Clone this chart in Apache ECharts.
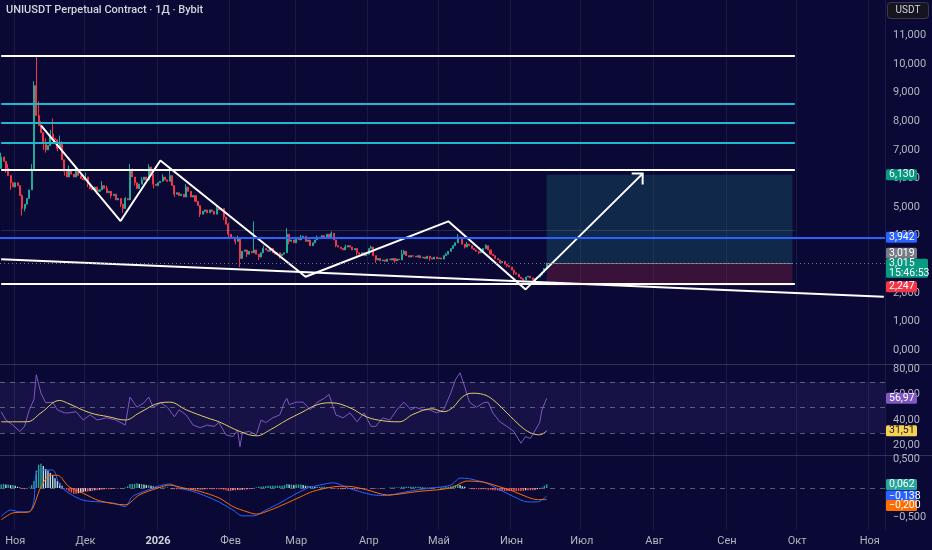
<!DOCTYPE html>
<html><head><meta charset="utf-8">
<script src="https://cdn.jsdelivr.net/npm/echarts@6/dist/echarts.min.js"></script>
<style>html,body{margin:0;padding:0;background:#0a0935;}#c{width:932px;height:550px;}</style>
</head><body><div id="c"></div>
<script>
// ---------- DATA ----------
const startDay = '2025-10-26';
const totalDays = 378;
const monthLabels = ['2026','Фев','Мар','Апр','Май','Июн','Июл','Авг','Сен','Окт','Ноя','Дек'];
const title = 'UNIUSDT Perpetual Contract · 1Д · Bybit';
const countdown = '15:46:53';

const openFirst = 6.35;
const closes = [
 6.75,6.60,6.35,6.10,5.85,5.70,5.85,5.75,5.40,4.95,
 5.10,5.30,5.60,6.30,9.25,8.20,7.85,7.60,7.25,7.00,
 7.15,7.55,7.40,7.35,7.05,7.25,6.65,6.25,6.05,6.30,
 6.15,6.05,6.25,6.10,6.00,5.95,6.05,5.80,5.65,5.60,
 5.70,5.55,5.60,5.75,5.65,5.50,5.55,5.40,5.45,5.25,
 5.30,5.10,4.95,5.30,5.25,6.30,6.05,5.85,5.65,5.80,
 5.95,6.05,5.95,6.40,6.15,5.80,5.75,5.85,5.90,6.05,
 5.95,5.90,6.10,5.75,5.45,5.50,5.40,5.45,5.35,5.70,
 5.55,5.35,5.40,5.20,5.05,4.75,4.85,4.90,4.80,4.90,
 4.85,4.75,4.95,4.90,4.95,4.65,4.40,4.05,3.90,3.95,
 3.80,3.90,3.20,3.45,3.50,3.35,3.45,3.40,3.50,3.35,
 3.25,3.40,3.55,3.50,3.45,3.55,3.40,3.35,3.40,3.30,
 3.35,3.40,4.05,3.80,3.85,3.75,3.90,3.85,3.95,3.98,
 3.80,3.85,3.65,3.75,3.85,3.95,3.90,4.00,3.95,4.05,
 3.95,4.08,3.85,3.65,3.60,3.55,3.50,3.60,3.65,3.60,
 3.50,3.55,3.40,3.35,3.40,3.30,3.35,3.55,3.60,3.30,
 3.15,3.20,3.12,3.15,3.10,3.18,3.15,3.20,3.12,3.18,
 3.15,3.35,3.45,3.30,3.25,3.30,3.28,3.25,3.30,3.22,
 3.25,3.20,3.28,3.22,3.18,3.25,3.20,3.22,3.18,3.30,
 3.35,3.45,3.55,3.65,3.75,3.95,3.90,3.70,3.60,3.70,
 3.65,3.55,3.50,3.45,3.40,3.45,3.55,3.65,3.50,3.35,
 3.30,3.20,3.15,3.05,3.10,3.00,2.95,2.90,2.80,2.70,
 2.65,2.55,2.50,2.45,2.55,2.58,2.52,2.42,2.50,2.55,
 2.62,2.72,2.85,3.015
];
const wickHigh = {0:6.9,3:6.5,9:5.45,13:6.5,14:9.4,15:10.25,16:8.7,17:8.0,19:7.4,21:7.7,22:8.1,25:7.5,26:7.3,29:6.45,32:6.4,36:6.2,43:5.9,45:5.75,53:5.35,55:6.5,56:6.35,60:6.05,63:6.5,69:6.15,72:6.35,79:5.8,92:5.05,97:4.45,101:4.0,108:4.5,112:3.65,122:4.26,128:4.02,135:4.0,141:4.15,147:3.68,158:3.65,171:3.5,172:3.5,190:3.4,195:4.05,199:3.78,207:3.7,233:3.05};
const wickLow = {2:6.2,4:5.6,9:4.7,10:4.85,18:7.0,19:6.9,24:6.95,27:6.1,37:5.7,41:5.45,47:5.3,51:5.0,52:4.8,57:5.75,65:5.65,74:5.35,85:4.65,95:4.55,97:3.9,100:3.7,102:2.9,105:3.25,110:3.15,119:3.2,123:3.7,143:3.6,152:3.3,160:3.05,168:3.05,183:3.12,198:3.55,204:3.35,216:2.9,219:2.62,223:2.35,227:2.37,228:2.4};

const levelsWhite = [10.30, 6.31, 2.30];
const levelsCyan = [8.63, 7.94, 7.25];
const levelFaint = 4.19;
const levelBlue = 3.942;
const levelsEndDay = 339;
const trendLine = [[0, 3.17], [377, 1.86]];
const zigzag = [[17,7.86],[51,4.51],[68,6.63],[130,2.56],[191,4.50],[224,2.12],[274,6.17]];
const posStart = 233, posEnd = 338;
const posTarget = 6.130, posEntry = 3.019, posStop = 2.247;

const rsi = [[0,46.5],[2,40],[5,36],[8,31],[10,35],[12,48],[14,56],[15,75.5],[17,61],[19,53.5],[22,54],[24,48],[27,45.6],[29,45.6],[32,46.5],[35,40],[38,44],[41,40],[45,41.7],[49,40],[53,36],[55,58],[58,50],[61,53.5],[63,58],[65,50],[68,53.5],[71,50],[74,42.5],[76,48],[79,44],[82,36],[85,34],[88,36],[91,35],[93,38],[96,28.4],[99,27],[101,32],[102,19],[103,30],[106,31],[109,28.4],[111,40],[113,38],[116,41.7],[119,44],[121,54],[122,57],[123,52],[126,54],[129,54],[132,48],[135,54],[138,57],[140,60],[143,44],[146,41.7],[149,45.6],[152,38.6],[155,45.6],[158,35],[160,35],[163,41.7],[166,40],[169,48],[172,54],[175,48],[177,50],[180,48],[183,48],[186,45.6],[189,48],[192,61],[194,71.5],[196,77],[198,66],[200,54],[203,50],[206,53.5],[208,54],[210,45.6],[213,38.6],[216,35],[219,31],[222,21.8],[224,27],[226,25.5],[227,28.4],[230,38],[231,48],[233,56.97]];
const rsiMa = [[0,38.6],[11,38.6],[17,45.6],[25,55.3],[28,53.5],[38,45.6],[46,42.5],[53,40],[59,45.6],[68,53.5],[72,54],[79,48],[88,41.7],[93,38.6],[102,31],[109,27.6],[115,32.4],[122,40],[128,45.6],[135,52],[141,53.5],[149,49.6],[156,42.5],[163,39.4],[170,38.6],[176,44.5],[184,48.8],[189,46.5],[193,50],[197,58],[201,61],[206,60],[210,56],[216,45.6],[222,35],[226,30],[230,28.4],[233,31.51]];
const macd = [[0,-0.49],[4,-0.38],[8,-0.41],[12,-0.41],[14,-0.21],[15,0.26],[18,0.31],[22,0.31],[25,0.05],[29,-0.09],[35,-0.21],[42,-0.24],[48,-0.26],[53,-0.32],[56,-0.15],[61,-0.06],[67,0.03],[72,0.07],[76,0.0],[82,-0.06],[88,-0.15],[93,-0.24],[99,-0.38],[103,-0.48],[108,-0.48],[113,-0.38],[119,-0.26],[125,-0.12],[131,0.0],[136,0.05],[142,0.09],[148,0.0],[153,-0.06],[159,-0.12],[165,-0.13],[170,-0.09],[178,-0.03],[184,0.0],[192,0.05],[196,0.17],[200,0.16],[203,0.13],[207,0.09],[213,-0.03],[219,-0.15],[225,-0.24],[229,-0.24],[233,-0.138]];
const signal = [[0,-0.55],[5,-0.43],[12,-0.41],[17,0.02],[21,0.22],[24,0.22],[29,0.02],[35,-0.09],[42,-0.22],[53,-0.29],[59,-0.12],[67,0.0],[72,0.05],[78,0.0],[85,-0.06],[93,-0.17],[99,-0.32],[105,-0.41],[109,-0.45],[115,-0.38],[122,-0.26],[128,-0.15],[133,-0.06],[142,0.02],[148,0.03],[156,-0.03],[165,-0.12],[178,-0.06],[192,0.0],[199,0.12],[206,0.10],[213,0.02],[219,-0.06],[225,-0.16],[229,-0.20],[233,-0.20]];
const hist = [
 0.06,0.07,0.06,0.06,0.05,0.05,0.04,0.02,0.01,-0.01,
 -0.02,-0.01,0.01,0.05,0.12,0.30,0.40,0.42,0.38,0.33,
 0.30,0.26,0.22,0.17,0.12,0.08,0.04,0.00,-0.03,-0.06,
 -0.08,-0.10,-0.10,-0.09,-0.08,-0.07,-0.06,-0.06,-0.05,-0.05,
 -0.04,-0.04,-0.03,-0.03,-0.02,-0.02,-0.02,-0.02,-0.01,-0.01,
 -0.01,-0.01,-0.01,0.01,0.03,0.07,0.07,0.07,0.08,0.07,
 0.07,0.06,0.05,0.05,0.04,0.03,0.02,0.02,0.01,0.01,
 0.01,0.01,0.00,-0.02,-0.02,-0.02,-0.02,-0.02,-0.02,-0.02,
 -0.02,-0.03,-0.03,-0.03,-0.02,-0.03,-0.03,-0.02,-0.02,-0.02,
 -0.02,-0.02,-0.02,-0.02,-0.02,-0.03,-0.04,-0.05,-0.05,-0.04,
 -0.04,-0.03,-0.04,-0.03,-0.03,-0.02,-0.02,-0.01,0.00,0.01,
 0.02,0.02,0.03,0.03,0.04,0.04,0.04,0.04,0.04,0.04,
 0.04,0.05,0.07,0.06,0.06,0.05,0.06,0.06,0.06,0.05,
 0.04,0.04,0.03,0.03,0.02,0.02,0.02,0.02,0.02,0.01,
 0.01,0.01,0.00,-0.01,-0.02,-0.02,-0.02,-0.02,-0.01,-0.01,
 -0.01,-0.02,-0.02,-0.02,-0.01,-0.01,-0.01,0.00,-0.01,-0.01,
 -0.01,-0.01,-0.01,0.00,0.00,0.00,0.01,0.01,0.01,0.01,
 0.01,0.02,0.02,0.02,0.02,0.02,0.02,0.02,0.02,0.02,
 0.01,0.01,0.01,0.01,0.01,0.01,0.01,0.01,0.01,0.01,
 0.02,0.02,0.03,0.04,0.05,0.06,0.05,0.03,0.02,0.00,
 -0.01,-0.02,-0.02,-0.02,-0.02,-0.02,-0.02,-0.02,-0.03,-0.03,
 -0.04,-0.04,-0.04,-0.05,-0.05,-0.05,-0.05,-0.05,-0.05,-0.05,
 -0.05,-0.05,-0.05,-0.05,-0.04,-0.04,-0.04,-0.04,-0.03,-0.02,
 -0.01,0.01,0.04,0.062
];

// ---------- BUILD ----------
const BG = '#0a0935';
const FONT = 'Roboto, "Noto Sans", sans-serif';
const AXC = '#b2b5be';
const dates = [];
{ const t0 = Date.parse(startDay + 'T00:00:00Z');
  for (let i = 0; i < totalDays; i++) dates.push(new Date(t0 + i * 86400000).toISOString().slice(0, 10)); }
const isMonthStart = (idx, v) => v.slice(8) === '01';
const monthName = v => monthLabels[+v.slice(5, 7) - 1];

const candles = closes.map((c, i) => {
  const o = i ? closes[i - 1] : openFirst;
  const h = Math.max(o, c, wickHigh[i] ?? -Infinity);
  const l = Math.min(o, c, wickLow[i] ?? Infinity);
  return [o, c, l, h];
});
const histItems = hist.map((v, i) => {
  const p = i ? hist[i - 1] : v;
  const col = v >= 0 ? (v >= p ? '#26a69a' : '#b2dfdb') : (v <= p ? '#ff5252' : '#ffcdd2');
  return { value: v, itemStyle: { color: col } };
});
const fmt = (v, d) => (v < 0 ? '−' : '') + Math.abs(v).toFixed(d).replace('.', ',');

const segLine = (y, color, w, type) => [
  { coord: [0, y], lineStyle: { color, width: w, type: type || 'solid' } },
  { coord: [levelsEndDay, y] }
];

const gridL = 0, gridR = 47;
const xBase = gi => ({
  type: 'category', gridIndex: gi, data: dates, boundaryGap: true,
  axisLine: { show: false }, axisTick: { show: false },
  axisLabel: { show: false }, splitLine: { show: false }
});
const yBase = (gi, min, max, interval, f) => ({
  type: 'value', gridIndex: gi, position: 'right', min, max, interval,
  axisLine: { show: false }, axisTick: { show: false }, splitLine: { show: false },
  axisLabel: { color: AXC, fontSize: 11, fontFamily: FONT, margin: 8, formatter: f }
});

const xAxes = [xBase(0), xBase(1), xBase(2), xBase(3)];
xAxes[2].axisLabel = {
  show: true, interval: isMonthStart, margin: 19, color: AXC, fontSize: 11, fontFamily: FONT,
  formatter: v => { const n = monthName(v); return v.slice(5, 7) === '01' ? '{b|' + n + '}' : n; },
  rich: { b: { fontWeight: 'bold', color: '#d1d4dc', fontSize: 11, fontFamily: FONT } }
};
xAxes[3].splitLine = { show: true, interval: isMonthStart, lineStyle: { color: 'rgba(255,255,255,0.07)', width: 1 } };

const option = {
  backgroundColor: BG,
  animation: false,
  grid: [
    { left: gridL, right: gridR, top: 6.9, height: 343.1 },
    { left: gridL, right: gridR, top: 369, height: 76.5 },
    { left: gridL, right: gridR, top: 459, height: 58 },
    { left: gridL, right: gridR, top: 0, height: 530 }
  ],
  xAxis: xAxes,
  yAxis: [
    yBase(0, 0, 12, 1, v => v >= 12 ? '' : fmt(v, 3)),
    yBase(1, 20, 80, 20, v => fmt(v, 2)),
    yBase(2, -0.5, 0.5, 0.5, v => v === 0 ? '' : fmt(v, 3)),
    { type: 'value', gridIndex: 3, show: false, min: 0, max: 1 }
  ],
  series: [
    {
      type: 'candlestick', xAxisIndex: 0, yAxisIndex: 0, data: candles, barWidth: '65%',
      itemStyle: { color: '#22ab94', color0: '#f23645', borderColor: '#22ab94', borderColor0: '#f23645', borderWidth: 1 },
      markArea: {
        silent: true,
        data: [
          [{ coord: [posStart, posTarget], itemStyle: { color: 'rgba(38,166,154,0.2)' } }, { coord: [posEnd, posEntry] }],
          [{ coord: [posStart, posEntry], itemStyle: { color: 'rgba(242,54,69,0.2)' } }, { coord: [posEnd, posStop] }]
        ]
      },
      markLine: {
        silent: true, symbol: ['none', 'none'], label: { show: false },
        data: [
          ...levelsWhite.map(y => segLine(y, '#ffffff', 2)),
          ...levelsCyan.map(y => segLine(y, '#1fb8cf', 2)),
          segLine(levelFaint, 'rgba(255,255,255,0.12)', 1),
          { yAxis: levelBlue, lineStyle: { color: '#2962ff', width: 2, type: 'solid' } },
          { yAxis: closes[closes.length - 1], lineStyle: { color: 'rgba(140,143,160,0.8)', width: 1, type: [1, 3] } },
          [{ coord: [posStart, posEntry], lineStyle: { color: 'rgba(160,160,170,0.7)', width: 1, type: 'solid' } }, { coord: [posEnd, posEntry] }]
        ]
      }
    },
    {
      type: 'line', xAxisIndex: 0, yAxisIndex: 0, data: trendLine, symbol: 'none',
      lineStyle: { color: '#ffffff', width: 2 }, silent: true
    },
    {
      type: 'line', xAxisIndex: 0, yAxisIndex: 0, data: zigzag, symbol: 'none',
      lineStyle: { color: '#ffffff', width: 2 }, silent: true
    },
    {
      type: 'custom', xAxisIndex: 0, yAxisIndex: 0, silent: true,
      data: [[...zigzag[zigzag.length - 2], ...zigzag[zigzag.length - 1]]],
      encode: { x: [0, 2], y: [1, 3] },
      renderItem: (params, api) => {
        const a = api.coord([api.value(0), api.value(1)]);
        const b = api.coord([api.value(2), api.value(3)]);
        const ang = Math.atan2(a[1] - b[1], a[0] - b[0]);
        const L = 11, s = Math.PI / 4;
        const p1 = [b[0] + L * Math.cos(ang + s), b[1] + L * Math.sin(ang + s)];
        const p2 = [b[0] + L * Math.cos(ang - s), b[1] + L * Math.sin(ang - s)];
        return { type: 'polyline', shape: { points: [p1, b, p2] }, style: { stroke: '#ffffff', lineWidth: 2, fill: null } };
      }
    },
    {
      type: 'line', xAxisIndex: 1, yAxisIndex: 1, data: rsi, symbol: 'none', clip: false,
      lineStyle: { color: '#7e57c2', width: 1 }, silent: true,
      markArea: { silent: true, data: [[{ yAxis: 70, itemStyle: { color: 'rgba(126,87,194,0.12)' } }, { yAxis: 30 }]] },
      markLine: {
        silent: true, symbol: ['none', 'none'], label: { show: false },
        lineStyle: { color: 'rgba(140,143,160,0.6)', width: 1, type: [5, 5] },
        data: [{ yAxis: 70 }, { yAxis: 50 }, { yAxis: 30 }]
      }
    },
    {
      type: 'line', xAxisIndex: 1, yAxisIndex: 1, data: rsiMa, symbol: 'none', smooth: 0.4, clip: false,
      lineStyle: { color: '#e3cd6a', width: 1 }, silent: true
    },
    {
      type: 'bar', xAxisIndex: 2, yAxisIndex: 2, data: histItems, barWidth: '60%', silent: true,
      markLine: {
        silent: true, symbol: ['none', 'none'], label: { show: false },
        lineStyle: { color: 'rgba(140,143,160,0.6)', width: 1, type: [5, 5] },
        data: [{ yAxis: 0 }]
      }
    },
    {
      type: 'line', xAxisIndex: 2, yAxisIndex: 2, data: macd, symbol: 'none', smooth: 0.3, clip: false,
      lineStyle: { color: '#2962ff', width: 1 }, silent: true
    },
    {
      type: 'line', xAxisIndex: 2, yAxisIndex: 2, data: signal, symbol: 'none', smooth: 0.3, clip: false,
      lineStyle: { color: '#ff6d00', width: 1 }, silent: true
    }
  ]
};

const chart = echarts.init(document.getElementById('c'), null, { renderer: 'canvas' });
chart.setOption(option);

// ---------- axis tags & overlays ----------
const yPix = (grid, v) => chart.convertToPixel({ xAxisIndex: grid, yAxisIndex: grid }, [0, v])[1];
const lastClose = closes[closes.length - 1];
const tags = [
  { g: 0, v: posTarget, text: fmt(posTarget, 3), bg: '#089981', fg: '#fff' },
  { g: 0, v: levelBlue, text: fmt(levelBlue, 3), bg: '#2962ff', fg: '#fff' },
  { g: 0, v: posEntry, text: fmt(posEntry, 3), bg: '#787b86', fg: '#fff', dy: -10.5 },
  { g: 0, v: lastClose, text: fmt(lastClose, 3) + '\n' + countdown, bg: '#089981', fg: '#fff', dy: 4.5, two: true },
  { g: 0, v: posStop, text: fmt(posStop, 3), bg: '#f23645', fg: '#fff', dy: 1 },
  { g: 1, v: rsi[rsi.length - 1][1], text: fmt(rsi[rsi.length - 1][1], 2), bg: '#7e57c2', fg: '#fff' },
  { g: 1, v: rsiMa[rsiMa.length - 1][1], text: fmt(rsiMa[rsiMa.length - 1][1], 2), bg: '#f7d154', fg: '#131722' },
  { g: 2, v: hist[hist.length - 1], text: fmt(hist[hist.length - 1], 3), bg: '#26a69a', fg: '#fff' },
  { g: 2, v: macd[macd.length - 1][1], text: fmt(macd[macd.length - 1][1], 3), bg: '#2962ff', fg: '#fff' },
  { g: 2, v: signal[signal.length - 1][1], text: fmt(signal[signal.length - 1][1], 3), bg: '#ff6d00', fg: '#fff', dy: 6 }
];
const graphics = [
  { type: 'line', shape: { x1: 0, y1: 364.5, x2: 932, y2: 364.5 }, style: { stroke: 'rgba(255,255,255,0.16)', lineWidth: 1 }, z: 1 },
  { type: 'line', shape: { x1: 0, y1: 455.5, x2: 932, y2: 455.5 }, style: { stroke: 'rgba(255,255,255,0.16)', lineWidth: 1 }, z: 1 },
  { type: 'text', x: 6, y: 5, style: { text: title, fill: '#d1d4dc', fontSize: 11, fontWeight: 500, fontFamily: FONT }, z: 10 },
  { type: 'rect', shape: { x: 887.5, y: 2.5, width: 41, height: 16, r: 3 }, style: { fill: '#15141f', stroke: '#3b3a4c', lineWidth: 1 }, z: 10 },
  { type: 'text', x: 908, y: 10.5, style: { text: 'USDT', fill: '#d1d4dc', fontSize: 10, fontFamily: FONT, align: 'center', verticalAlign: 'middle' }, z: 11 }
];
tags.forEach(t => {
  const yc = yPix(t.g, t.v) + (t.dy || 0);
  const h = t.two ? 19 : 11;
  const w = t.two ? 42 : 31;
  graphics.push({ type: 'rect', shape: { x: 886, y: yc - h / 2, width: w, height: h, r: 1.5 }, style: { fill: t.bg }, z: 20 });
  graphics.push({ type: 'text', x: 889, y: yc, style: { text: t.text, fill: t.fg, fontSize: 10.5, lineHeight: 9.5, fontFamily: FONT, align: 'left', verticalAlign: 'middle' }, z: 21 });
});
chart.setOption({ graphic: graphics });
</script>
</body></html>
